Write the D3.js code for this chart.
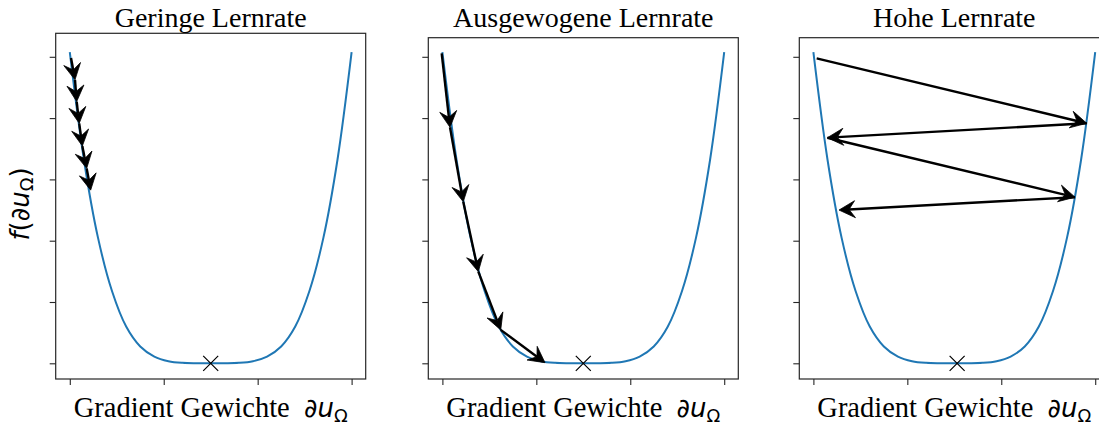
<!DOCTYPE html>
<html><head><meta charset="utf-8">
<script src="https://cdn.jsdelivr.net/npm/d3@7"></script>
<style>
html,body{margin:0;padding:0;background:#fff;}
svg{display:block;}
</style></head>
<body>
<svg id="chart" width="1099" height="425"></svg>
<script>
// ---- data ----
const titles = ["Geringe Lernrate", "Ausgewogene Lernrate", "Hohe Lernrate"];
const xLabelText = "Gradient Gewichte";
const xTickValues = [-1, -1/3, 1/3, 1];
const yTickValues = [0, 0.2, 0.4, 0.6, 0.8, 1.0];
// loss curve
const curveX = [-1, -0.9, -0.8, -0.7, -0.6, -0.5, -0.4, -0.3, -0.2, -0.1, 0, 0.1, 0.2, 0.3, 0.4, 0.5, 0.6, 0.7, 0.8, 0.9, 1];
const curveY = [1.015, 0.665, 0.41, 0.235, 0.12, 0.055, 0.022, 0.007, 0.0015, 0.0002, 0, 0.0002, 0.0015, 0.007, 0.022, 0.055, 0.12, 0.235, 0.41, 0.665, 1.015];
// gradient descent steps per panel
const slowStepsX = [-0.991, -0.963, -0.951, -0.933, -0.911, -0.880, -0.852];
const slowStepsY = [0.996, 0.925, 0.854, 0.783, 0.709, 0.636, 0.565];
const midStepsX = [-1.005, -0.946, -0.852, -0.745, -0.586, -0.272];
const midStepsY = [1.011, 0.770, 0.527, 0.299, 0.109, 0.002];
const highStepsX = [-0.977, 0.940, -0.901, 0.857, -0.818];
const highStepsY = [0.995, 0.783, 0.736, 0.542, 0.500];
const minimumX = [0, 0, 0.02];
const minimumY = [0, 0, 0];

// ---- layout ----
const panels = [
  {left: 55.7, top: 33.3, sx: slowStepsX, sy: slowStepsY},
  {left: 428.3, top: 37.7, sx: midStepsX, sy: midStepsY},
  {left: 799.3, top: 37.7, sx: highStepsX, sy: highStepsY}
];
const W = 310, bottom = 379;
const axisColor = "#262626";
const svg = d3.select("#chart");

panels.forEach((p, i) => {
  const x = d3.scaleLinear().domain([-1.1, 1.1]).range([p.left, p.left + W]);
  const y = d3.scaleLinear().domain([0, 1]).range([363.3, 56.8]);
  const g = svg.append("g");

  // frame
  g.append("rect").attr("x", p.left).attr("y", p.top)
    .attr("width", W).attr("height", bottom - p.top)
    .attr("fill", "none").attr("stroke", axisColor).attr("stroke-width", 1.2);

  // axes (ticks only)
  const ay = g.append("g").attr("transform", `translate(${p.left},0)`)
    .call(d3.axisLeft(y).tickValues(yTickValues).tickFormat("").tickSize(6).tickSizeOuter(0));
  const ax = g.append("g").attr("transform", `translate(0,${bottom})`)
    .call(d3.axisBottom(x).tickValues(xTickValues).tickFormat("").tickSize(6).tickSizeOuter(0));
  [ax, ay].forEach(a => {
    a.select(".domain").remove();
    a.selectAll(".tick line").attr("stroke", axisColor).attr("stroke-width", 1.1);
  });

  // curve
  const pts = curveX.map((v, k) => [v, curveY[k]]);
  g.append("path").datum(pts)
    .attr("d", d3.line().x(d => x(d[0])).y(d => y(d[1])).curve(d3.curveCatmullRom.alpha(0.5)))
    .attr("fill", "none").attr("stroke", "#1f77b4").attr("stroke-width", 2);

  // minimum marker
  const mx = x(minimumX[i]), my = y(minimumY[i]), ms = 7.5;
  g.append("path")
    .attr("d", `M${mx-ms},${my-ms}L${mx+ms},${my+ms}M${mx-ms},${my+ms}L${mx+ms},${my-ms}`)
    .attr("stroke", "#000").attr("stroke-width", 1.2).attr("fill", "none");

  // arrows
  for (let k = 0; k < p.sx.length - 1; k++) {
    const x0 = x(p.sx[k]), y0 = y(p.sy[k]);
    const x1 = x(p.sx[k+1]), y1 = y(p.sy[k+1]);
    const ang = Math.atan2(y1 - y0, x1 - x0);
    const L = 16, Wd = 8.5, notch = 10;
    const c = Math.cos(ang), s = Math.sin(ang);
    const ex = x1 - c * notch, ey = y1 - s * notch;
    g.append("line").attr("x1", x0).attr("y1", y0).attr("x2", ex).attr("y2", ey)
      .attr("stroke", "#000").attr("stroke-width", 2.4);
    const bx = x1 - c * L, by = y1 - s * L;
    const pA = [bx - s * Wd, by + c * Wd];
    const pB = [bx + s * Wd, by - c * Wd];
    g.append("path")
      .attr("d", `M${x1},${y1}L${pA[0]},${pA[1]}L${ex},${ey}L${pB[0]},${pB[1]}Z`)
      .attr("fill", "#000").attr("stroke", "#000").attr("stroke-width", 0.8).attr("stroke-linejoin", "miter");
  }

  const cx = p.left + W / 2;
  // title
  g.append("text").attr("x", cx).attr("y", 27)
    .attr("text-anchor", "middle")
    .style("font-family", "'Liberation Serif', 'Times New Roman', serif")
    .style("font-size", "28px").attr("fill", "#000")
    .text(titles[i]);

  // x label
  const xl = g.append("text").attr("x", cx).attr("y", 417)
    .attr("text-anchor", "middle").attr("fill", "#000");
  xl.append("tspan")
    .style("font-family", "'Liberation Serif', 'Times New Roman', serif")
    .style("font-size", "28.5px").attr("xml:space", "preserve")
    .text(xLabelText + "\u00a0\u00a0");
  xl.append("tspan")
    .style("font-family", "'DejaVu Sans', sans-serif").style("font-style", "italic")
    .style("font-size", "26px").text("\u2202u");
  xl.append("tspan")
    .style("font-family", "'DejaVu Sans', sans-serif")
    .style("font-size", "18px").attr("dy", 5).text("\u03a9");
});

// y label
const yl = svg.append("text")
  .attr("transform", "translate(29,204) rotate(-90)")
  .attr("text-anchor", "middle").attr("fill", "#000")
  .style("font-family", "'DejaVu Sans', sans-serif").style("font-size", "26px");
yl.append("tspan").style("font-style", "italic").text("f");
yl.append("tspan").text("(");
yl.append("tspan").style("font-style", "italic").text("\u2202u");
yl.append("tspan").style("font-size", "18px").attr("dy", 4).text("\u03a9");
yl.append("tspan").attr("dy", -4).text(")");
</script>
</body></html>
